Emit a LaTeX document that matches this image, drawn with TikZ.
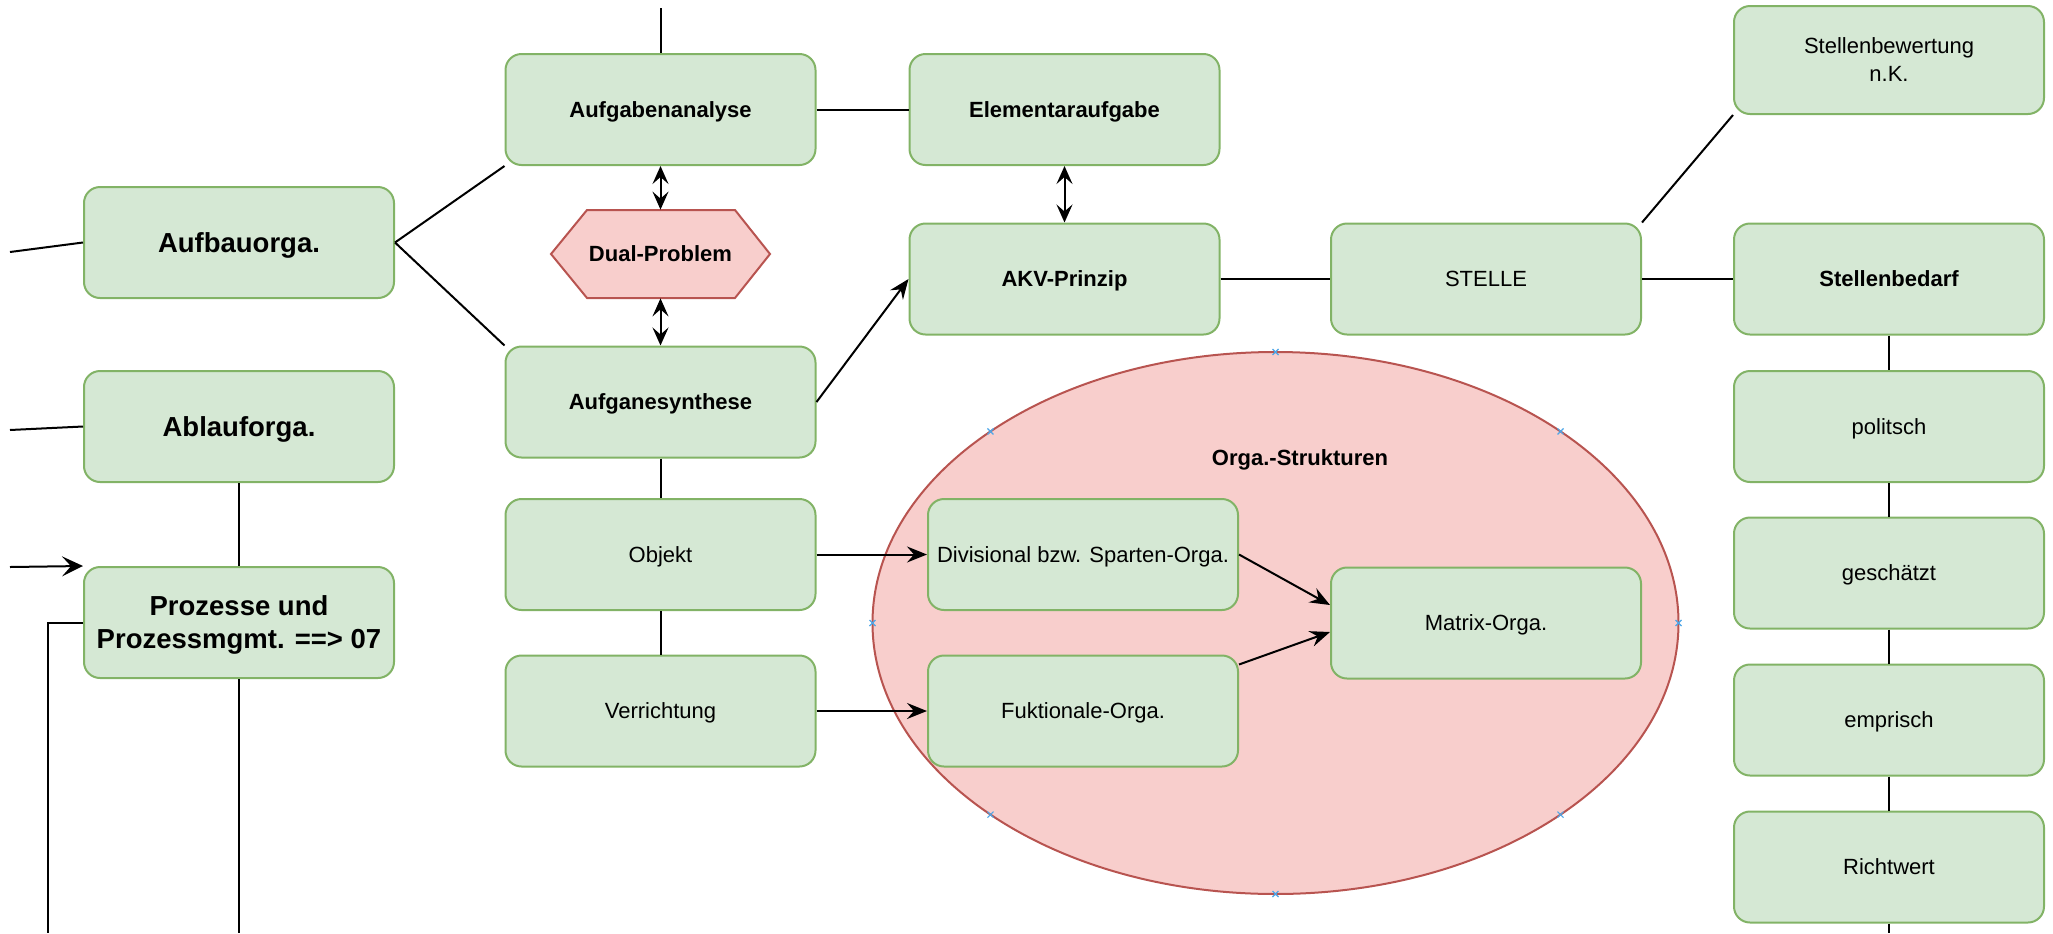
\documentclass[tikz,border=0pt]{standalone}
\usepackage{fontspec}
\setmainfont{Liberation Sans}
\usetikzlibrary{arrows.meta,shapes.geometric,calc}
\definecolor{boxfill}{HTML}{D5E8D4}
\definecolor{boxdraw}{HTML}{82B366}
\definecolor{redfill}{HTML}{F8CECC}
\definecolor{reddraw}{HTML}{B85450}
\definecolor{markblue}{HTML}{4DA6E8}
\tikzset{
  box/.style={draw=boxdraw, fill=boxfill, rounded corners=8pt, line width=1pt,
    minimum width=155pt, minimum height=55.5pt, inner sep=2pt, align=center,
    text=black, text depth=0pt, font=\fontsize{11}{14}\selectfont},
  boldbox/.style={box, font=\fontsize{11}{14}\selectfont\bfseries},
  bigbox/.style={box, font=\fontsize{13.75}{16.5}\selectfont\bfseries},
  conn/.style={draw=black, line width=1pt},
  arr/.style={conn, -{Stealth[length=10pt, width=8pt, inset=3.5pt]}},
  darr/.style={conn, {Stealth[length=9pt, width=8pt, inset=3.5pt]}-{Stealth[length=9pt, width=8pt, inset=3.5pt]}},
  bigarr/.style={conn, -{Stealth[length=10.5pt, width=10pt, inset=4.5pt]}},
  redshape/.style={draw=reddraw, fill=redfill, line width=1pt},
  xmark/.style={draw=markblue, line width=0.6pt},
}
\begin{document}
\begin{tikzpicture}[x=0.5pt, y=-0.5pt]
\useasboundingbox (0,0) rectangle (2053,933);

% ellipse (background)
\node[ellipse, redshape, minimum width=403pt, minimum height=271pt, inner sep=0pt] (orga) at (1275.5,623) {};
\node[font=\fontsize{11}{14}\selectfont\bfseries, text depth=0pt] (orgalabel) at (1300,458) {Orga.-Strukturen};
\foreach \dx/\dy in {403/0,-403/0,0/271,0/-271,285/191.6,285/-191.6,-285/191.6,-285/-191.6}{
  \draw[xmark] ($(orga.center)+(\dx,\dy)$) +(-3,-3) -- +(3,3) +(-3,3) -- +(3,-3);
}

% left column
\node[bigbox] (aufbau) at (239,242.5) {Aufbauorga.};
\node[bigbox] (ablauf) at (239,426.5) {Ablauforga.};
\node[bigbox] (proz) at (239,622.5) {Prozesse und\\Prozessmgmt. ==> 07};

% second column
\node[boldbox] (analyse) at (660.5,109.5) {Aufgabenanalyse};
\draw[redshape] (551,254) -- (587,210) -- (735,210) -- (770,254) -- (735,298) -- (587,298) -- cycle;
\node[minimum width=109.5pt, minimum height=44pt, inner sep=0pt, text depth=0pt, font=\fontsize{11}{14}\selectfont\bfseries] (dual) at (660.5,254) {Dual-Problem};
\node[boldbox] (synth) at (660.5,402) {Aufganesynthese};
\node[box] (objekt) at (660.5,554.5) {Objekt};
\node[box] (verr) at (660.5,711) {Verrichtung};

% third column
\node[boldbox] (elem) at (1064.5,109.5) {Elementaraufgabe};
\node[boldbox] (akv) at (1064.5,279) {AKV-Prinzip};
\node[box] (stelle) at (1486,279) {STELLE};

% right column
\node[box, minimum height=54pt] (bewert) at (1889,60) {Stellenbewertung\\n.K.};
\node[boldbox] (bedarf) at (1889,279) {Stellenbedarf};
\node[box] (polit) at (1889,426.5) {politsch};
\node[box] (gesch) at (1889,573) {geschätzt};
\node[box] (empr) at (1889,720) {emprisch};
\node[box] (richt) at (1889,867) {Richtwert};

% inside ellipse
\node[box] (div) at (1083,554.5) {Divisional bzw. Sparten-Orga.};
\node[box] (fukt) at (1083,711) {Fuktionale-Orga.};
\node[box] (matrix) at (1486,623) {Matrix-Orga.};

% free ends
\coordinate (l1) at (10,252);
\coordinate (l2) at (10,430);
\coordinate (l3) at (10,567);
\coordinate (lb1) at (48,933);
\coordinate (lb2) at (239,933);
\coordinate (top1) at (660.5,8);
\coordinate (rb) at (1889,933);

% connectors
\draw[conn] (l1) -- (aufbau.west);
\draw[conn] (l2) -- (ablauf.west);
\draw[bigarr] (l3) -- (proz.north west);
\draw[conn] (proz.west) -| (lb1);
\draw[conn] (ablauf.south) -- (proz.north);
\draw[conn] (proz.south) -- (lb2);

\draw[conn] (aufbau.east) -- (analyse.south west);
\draw[conn] (aufbau.east) -- (synth.north west);
\draw[conn] (top1) -- (analyse.north);
\draw[conn] (analyse.east) -- (elem.west);
\draw[darr] (analyse.south) -- (dual.north);
\draw[darr] (dual.south) -- (synth.north);
\draw[conn] (synth.south) -- (objekt.north);
\draw[conn] (objekt.south) -- (verr.north);

\draw[darr] (elem.south) -- (akv.north);
\draw[arr] (synth.east) -- (akv.west);
\draw[conn] (akv.east) -- (stelle.west);
\draw[conn] (stelle.east) -- (bedarf.west);
\draw[conn] (stelle.north east) -- (bewert.south west);

\draw[conn] (bedarf.south) -- (polit.north);
\draw[conn] (polit.south) -- (gesch.north);
\draw[conn] (gesch.south) -- (empr.north);
\draw[conn] (empr.south) -- (richt.north);
\draw[conn] (richt.south) -- (rb);

\draw[arr] (objekt.east) -- (div.west);
\draw[arr] (verr.east) -- (fukt.west);
\draw[arr] (div.east) -- ($(matrix.west)+(0,-18)$);
\draw[arr] ($(fukt.north east)+(0,10)$) -- ($(matrix.west)+(0,9)$);
\end{tikzpicture}
\end{document}
